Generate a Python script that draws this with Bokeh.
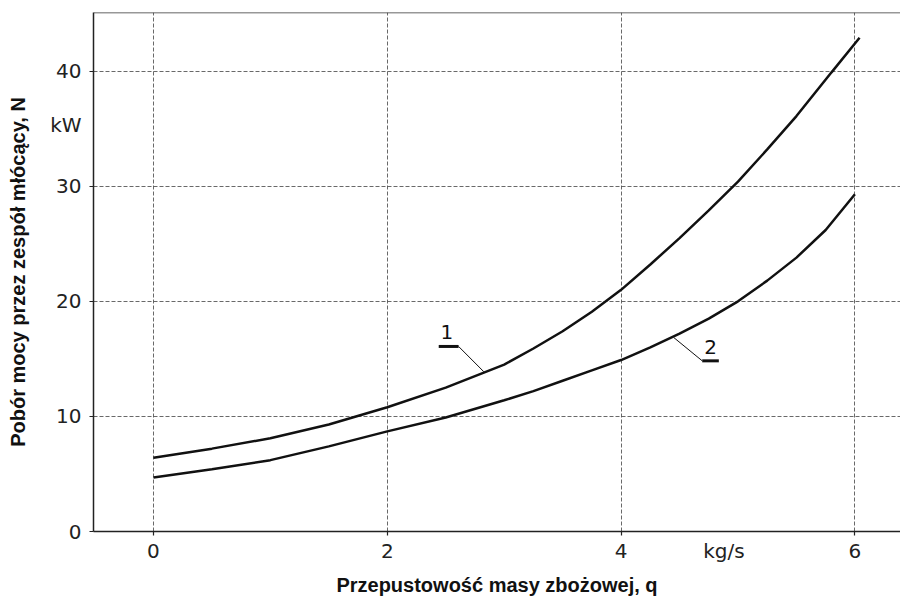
from bokeh.plotting import figure
from bokeh.models import Range1d, FixedTicker, Label, Span
from bokeh.embed import file_html
from bokeh.resources import INLINE

# ---- data ----
q1 = [0, 0.5, 1, 1.5, 2, 2.5, 3, 3.25, 3.5, 3.75, 4, 4.25, 4.5, 4.75, 5, 5.25, 5.5, 5.8, 6.04]
N1 = [6.4, 7.2, 8.1, 9.3, 10.8, 12.5, 14.5, 15.9, 17.4, 19.1, 21.0, 23.2, 25.5, 27.9, 30.4, 33.2, 36.1, 39.9, 42.9]
q2 = [0, 0.5, 1, 1.5, 2, 2.5, 3, 3.25, 3.5, 3.75, 4, 4.25, 4.5, 4.75, 5, 5.25, 5.5, 5.75, 6]
N2 = [4.7, 5.4, 6.2, 7.4, 8.7, 9.9, 11.4, 12.2, 13.1, 14.0, 14.9, 16.0, 17.2, 18.5, 20.0, 21.8, 23.8, 26.2, 29.3]

x_ticks = [0, 2, 4, 6]
y_ticks = [0, 10, 20, 30, 40]
curve_names = ["1", "2"]
x_title = "Przepustowość masy zbożowej, q"
y_title = "Pobór mocy przez zespół młócący, N"
x_unit = "kg/s"
y_unit = "kW"
x_unit_at = 4.88
y_unit_at = 35.3

X0, X1 = -0.513, 6.39
Y0, Y1 = 0.0, 45.1

TICK_FONT = "DejaVu Sans"
TITLE_FONT = "Liberation Sans"

p = figure(width=900, height=598, output_backend="svg", toolbar_location=None,
           x_range=Range1d(X0, X1), y_range=Range1d(Y0, Y1),
           min_border_left=93, min_border_right=0, min_border_top=12, min_border_bottom=65)
p.outline_line_color = None
p.background_fill_color = "white"
p.border_fill_color = "white"

# labelled positions include the unit texts; short tick marks only at real ticks
for ax, ticks, unit_at, unit in ((p.xaxis[0], x_ticks, x_unit_at, x_unit),
                                 (p.yaxis[0], y_ticks, y_unit_at, y_unit)):
    ax.ticker = FixedTicker(ticks=sorted(ticks + [unit_at]), minor_ticks=ticks)
    ax.major_label_overrides = {unit_at: unit}
    ax.axis_line_color = "#222222"
    ax.axis_line_width = 1.5
    ax.major_tick_out = 0
    ax.major_tick_in = 0
    ax.minor_tick_line_color = "#222222"
    ax.minor_tick_line_width = 1.2
    ax.minor_tick_out = 4
    ax.minor_tick_in = 0
    ax.major_label_text_font = TICK_FONT
    ax.major_label_text_font_size = "20px"
    ax.major_label_text_color = "#222222"
    ax.major_label_text_line_height = 1.0
    ax.axis_label_text_font = TITLE_FONT
    ax.axis_label_text_font_size = "20px"
    ax.axis_label_text_font_style = "bold"
    ax.axis_label_text_color = "#111111"
    ax.axis_label_text_line_height = 1.0

p.xaxis.major_label_standoff = 3
p.yaxis.major_label_standoff = 8
p.xaxis.axis_label = x_title
p.yaxis.axis_label = y_title
p.xaxis.axis_label_standoff = 8
p.yaxis.axis_label_standoff = 18

p.xgrid.ticker = FixedTicker(ticks=x_ticks)
p.ygrid.ticker = FixedTicker(ticks=y_ticks)
for g in (p.xgrid, p.ygrid):
    g.grid_line_color = "#444444"
    g.grid_line_alpha = 0.8
    g.grid_line_width = 1
    g.grid_line_dash = "4 2"

# top border line
p.add_layout(Span(location=Y1, dimension="width", line_color="#333333", line_width=1.5))

# curves
p.line(q1, N1, line_color="#111111", line_width=2.5)
p.line(q2, N2, line_color="#111111", line_width=2.5)

# curve labels with leaders
lab_pos = [(2.51, 17.3), (4.765, 16.0)]
under = [([2.44, 2.61], [16.08, 16.08]), ([4.694, 4.836], [14.83, 14.83])]
leader = [([2.61, 2.826], [16.08, 13.88]), ([4.45, 4.694], [16.86, 14.83])]
for name, (lx, ly), (ux, uy), (ldx, ldy) in zip(curve_names, lab_pos, under, leader):
    p.add_layout(Label(x=lx, y=ly, text=name, text_font=TICK_FONT, text_font_size="20px",
                       text_align="center", text_baseline="middle", text_color="#111111"))
    p.line(ux, uy, line_color="#111111", line_width=3)
    p.line(ldx, ldy, line_color="#111111", line_width=1)

open("out.html", "w").write(file_html(p, INLINE))
